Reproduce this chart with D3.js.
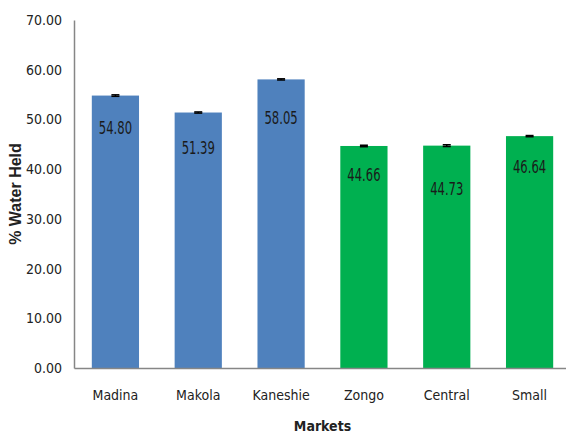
<!DOCTYPE html>
<html>
<head>
<meta charset="utf-8">
<script src="https://cdn.jsdelivr.net/npm/d3@7"></script>
<style>
  body { margin: 0; background: #fff; }
  svg text { font-family: "Liberation Sans Narrow", "DejaVu Sans Condensed", sans-serif; }
</style>
</head>
<body>
<svg id="chart" width="566" height="438"></svg>
<script>
// data
const markets = ['Madina', 'Makola', 'Kaneshie', 'Zongo', 'Central', 'Small'];
const waterHeld = [54.80, 51.39, 58.05, 44.66, 44.73, 46.64];
const errors = [0.15, 0.12, 0.12, 0.15, 0.18, 0.12];
const groupColors = ['#4F81BD', '#4F81BD', '#4F81BD', '#00B050', '#00B050', '#00B050'];
const yTicks = [0, 10, 20, 30, 40, 50, 60, 70];

// label placement inside bars (px below bar top), as in the original
const labelDy = [32, 36, 39, 29, 43, 31];

const svg = d3.select('#chart');
const plot = {left: 74, right: 571, top: 20, bottom: 368};

const x = d3.scaleBand().domain(markets).range([plot.left, plot.right]).paddingInner(0.43).paddingOuter(0.215);
const y = d3.scaleLinear().domain([0, 70]).range([plot.bottom, plot.top]);

// bars
svg.selectAll('.bar')
  .data(markets)
  .enter()
  .append('rect')
  .attr('class', 'bar')
  .attr('x', d => x(d))
  .attr('y', (d, i) => y(waterHeld[i]))
  .attr('width', x.bandwidth())
  .attr('height', (d, i) => y(0) - y(waterHeld[i]))
  .attr('fill', (d, i) => groupColors[i]);

// error bars
const eb = svg.selectAll('.err').data(markets).enter().append('g').attr('class', 'err');
eb.append('line')
  .attr('x1', d => x(d) + x.bandwidth() / 2)
  .attr('x2', d => x(d) + x.bandwidth() / 2)
  .attr('y1', (d, i) => y(waterHeld[i] - errors[i]))
  .attr('y2', (d, i) => y(waterHeld[i] + errors[i]))
  .attr('stroke', '#000').attr('stroke-width', 1.5);
eb.selectAll('.cap')
  .data((d, i) => [[d, waterHeld[i] + errors[i]], [d, waterHeld[i] - errors[i]]])
  .enter()
  .append('line')
  .attr('x1', d => x(d[0]) + x.bandwidth() / 2 - 4)
  .attr('x2', d => x(d[0]) + x.bandwidth() / 2 + 4)
  .attr('y1', d => y(d[1]))
  .attr('y2', d => y(d[1]))
  .attr('stroke', '#000').attr('stroke-width', 1.5);

// value labels (squashed horizontally to look like a narrow font)
svg.selectAll('.val')
  .data(markets)
  .enter()
  .append('text')
  .attr('class', 'val')
  .attr('transform', (d, i) => `translate(${x(d) + x.bandwidth() / 2},${y(waterHeld[i]) + labelDy[i]}) scale(0.76,1)`)
  .attr('dy', '0.35em')
  .attr('text-anchor', 'middle')
  .attr('font-size', 17)
  .attr('fill', '#1a1a1a')
  .text((d, i) => waterHeld[i].toFixed(2));

// y axis
const yAxis = svg.append('g')
  .attr('transform', `translate(${plot.left},0)`)
  .call(d3.axisLeft(y).tickValues(yTicks).tickFormat(d3.format('.2f')).tickSize(0).tickPadding(12));
yAxis.select('.domain').attr('stroke', '#868686').attr('stroke-width', 1.5);
yAxis.selectAll('text').attr('font-size', 14).attr('fill', '#222');

// x axis
const xAxis = svg.append('g')
  .attr('transform', `translate(0,${plot.bottom})`)
  .call(d3.axisBottom(x).tickSize(0).tickPadding(22));
xAxis.select('.domain').attr('stroke', '#868686').attr('stroke-width', 1.5);
xAxis.selectAll('text').attr('font-size', 14).attr('fill', '#222');

// axis titles
svg.append('text')
  .attr('x', (plot.left + plot.right) / 2)
  .attr('y', 431)
  .attr('text-anchor', 'middle')
  .attr('font-size', 14)
  .attr('font-weight', 'bold')
  .attr('fill', '#222')
  .text('Markets');

svg.append('text')
  .attr('transform', 'translate(21,194) rotate(-90)')
  .attr('text-anchor', 'middle')
  .style('font-family', 'Arial, "Liberation Sans", sans-serif')
  .attr('font-size', 16)
  .attr('font-weight', 'bold')
  .attr('fill', '#222')
  .text('% Water Held');
</script>
</body>
</html>
